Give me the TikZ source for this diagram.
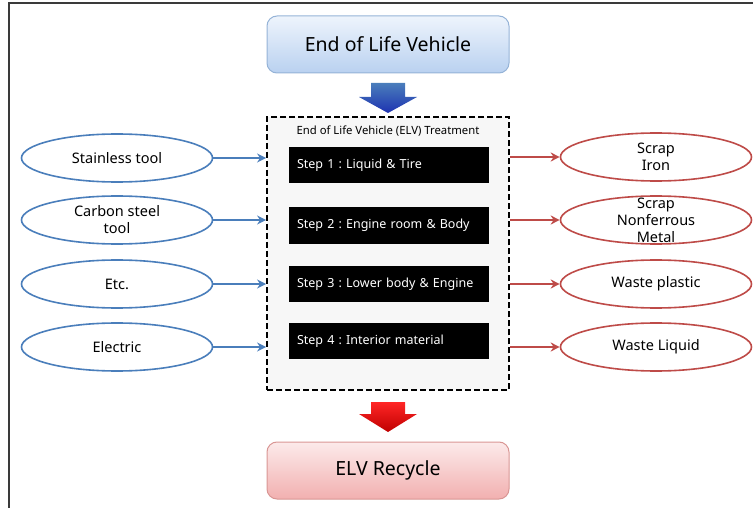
\documentclass[tikz,border=0pt]{standalone}
\usepackage{fontspec}
\setmainfont{Noto Sans}
\usetikzlibrary{arrows.meta,shapes.geometric}
\frenchspacing

\definecolor{ovalblue}{HTML}{4A7EBB}
\definecolor{ovalred}{HTML}{BE4B48}
\definecolor{edgegray}{HTML}{3A3A3A}
\definecolor{elvtop}{HTML}{EEF4FC}
\definecolor{elvbottom}{HTML}{B9D1F0}
\definecolor{elvedge}{HTML}{95B3D7}
\definecolor{rectop}{HTML}{FCEAEA}
\definecolor{recbottom}{HTML}{F2B0B0}
\definecolor{recedge}{HTML}{D99694}

\tikzset{
    oval/.style={ellipse,draw,line width=1.6pt,fill=white,inner sep=0pt,
        minimum width=191pt,minimum height=48pt},
    ovaltext/.style={align=center,font=\fontsize{14.5}{17}\selectfont},
    stepbox/.style={fill=black,text=white,minimum height=36pt,text width=184pt,
        inner xsep=8pt,align=left,font=\fontsize{12.5}{14}\selectfont},
    bigbox/.style={draw,line width=1pt,rounded corners=10pt,minimum width=242pt,
        minimum height=57pt,font=\fontsize{19.5}{22}\selectfont},
    inarrow/.style={draw=ovalblue,line width=2pt,-{Stealth[length=9pt,width=9pt]}},
    outarrow/.style={draw=ovalred,line width=2pt,-{Stealth[length=9pt,width=9pt]}}
}

\begin{document}
\begin{tikzpicture}[x=1pt,y=-1pt]
    \useasboundingbox (0,0) rectangle (753,508);
    \draw[line width=1.5pt,edgegray] (9,508) -- (9,3) -- (753,3);

    % top and bottom boxes
    \node[bigbox,draw=elvedge,top color=elvtop,bottom color=elvbottom]
        at (388,44.5)(elv){End of Life Vehicle};
    \node[bigbox,draw=recedge,top color=rectop,bottom color=recbottom]
        at (388,470.5)(recycle){ELV Recycle};

    % treatment frame
    \node[draw,dashed,line width=1.8pt,dash pattern=on 6pt off 3pt,fill=black!3,
        minimum width=242pt,minimum height=273pt] at (388,253.5)(frame){};
    \node[font=\fontsize{11.3}{13}\selectfont] at (388,131)(title)
        {End of Life Vehicle (ELV) Treatment};

    % block arrows
    \shade[top color=ovalblue,bottom color=blue!50!ovalblue!80!black]
        (371,83) -- (405,83) -- (405,97) -- (417,97) -- (388,113)
        -- (359,97) -- (371,97) -- cycle;
    \shade[top color=red!85!white,bottom color=red!75!black]
        (371,402) -- (405,402) -- (405,414) -- (417,414) -- (388,432)
        -- (359,414) -- (371,414) -- cycle;

    \foreach\y/\txt/\n in{165/{Step 1 : Liquid \& Tire}/1,
                          225.5/{Step 2 : Engine room \& Body}/2,
                          284/{Step 3 : Lower body \& Engine}/3,
                          341/{Step 4 : Interior material}/4}{
        \node[stepbox] at(389,\y)(s\n){\txt};
    }

    % inputs
    \foreach\y/\txt/\n in{158/{Stainless tool}/1,
                          220/{Carbon steel\\tool}/2,
                          284/{Etc.}/3,
                          347/{Electric}/4}{
        \node[oval,draw=ovalblue] at(117,\y)(in\n){};
        \node[ovaltext] at(in\n)(int\n){\txt};
        \draw[inarrow](in\n.east) -- (in\n.east -| frame.west);
    }

    % outputs
    \foreach\y/\txt/\n in{157/{Scrap\\Iron}/1,
                          220/{Scrap\\Nonferrous\\Metal}/2,
                          284/{Waste plastic}/3,
                          347/{Waste Liquid}/4}{
        \node[oval,draw=ovalred] at(656,\y)(out\n){};
        \node[ovaltext] at(out\n)(outt\n){\txt};
        \draw[outarrow](out\n.west -| frame.east) -- (out\n.west);
    }
\end{tikzpicture}
\end{document}
